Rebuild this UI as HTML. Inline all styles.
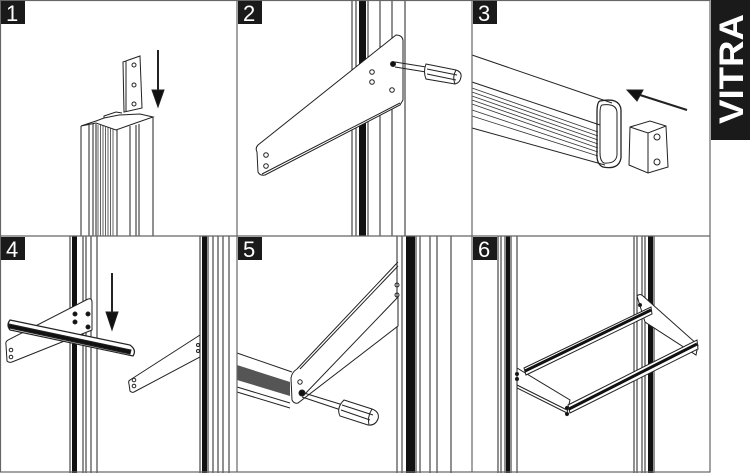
<!DOCTYPE html>
<html><head><meta charset="utf-8"><style>
html,body{margin:0;padding:0;background:#fff}
svg{display:block}
text{font-family:"Liberation Sans",sans-serif}
</style></head><body>
<svg width="750" height="473" viewBox="0 0 750 473" xmlns="http://www.w3.org/2000/svg">
<rect width="750" height="473" fill="#fff"/>
<g fill="none" stroke="#222" stroke-width="1">
<!-- PANEL 1 -->
<path d="M123,62 L140,56 L142,108 L124,112 Z"/>
<path d="M126,61 L126,111"/>
<circle cx="134" cy="65" r="2"/><circle cx="134" cy="85" r="2"/><circle cx="134" cy="104" r="2"/>
<path d="M158,50 L158,92" stroke-width="2"/>
<path d="M152,90 L164,90 L158,107 Z" fill="#111"/>
<path d="M81,126 L81,236 M89,125 L89,236 M93,124 L93,236 M96,124 L96,236 M117,130 L117,236 M130,126 L130,236 M136,125 L136,236 M139,124 L139,236 M153,117 L153,236"/>
<path d="M81,126 L96,123 L116,130 L130,125 L153,117 L140,114 L119,115 L104,118 L96,121 L81,126"/>
<path d="M104,118 L104,116 L116,112 L122,113"/>
<g stroke="#222" stroke-width="0.7"><path d="M98,125 V236 M100.5,125 V236 M103,126 V236 M105.5,127 V236 M108,127 V236 M110.5,128 V236 M113,129 V236"/></g>
<!-- PANEL 2 -->
<path d="M352,0 V236 M356,0 V236 M368,0 V236 M380,0 V236 M392,0 V236 M405,0 V236"/>
<rect x="359" y="0" width="7" height="236" fill="#111" stroke="none"/>
<path d="M258,145 Q255,148 257,152 L258,172 Q260,176 265,175 L400,105 L403,100 L403,40 Q402,35 396,35 Z" fill="#fff"/>
<path d="M262,174 L400,103"/>
<circle cx="266" cy="155" r="2.3"/><circle cx="266" cy="166" r="2.3"/>
<circle cx="372" cy="72" r="2.3"/><circle cx="372" cy="82" r="2.3"/>
<circle cx="392" cy="90" r="2.3"/>
<circle cx="393" cy="64" r="2.5" fill="#111"/>
<path d="M395,62 L426,67 M395,67 L426,72"/>
<path d="M426,64 L456,70 Q462,72 461,77 Q460,83 455,84 L426,79 Q423,72 426,64 Z" fill="#fff"/>
<path d="M427,69 L457,75 M427,74 L456,80 M456,70 Q452,77 455,84"/>
<!-- PANEL 3 -->
<path d="M472,55 L612,103 M472,82 L600,125 M472,128 L605,165"/>
<g stroke="#333" stroke-width="0.8"><path d="M472,88 L598,132 M472,92 L598,136 M472,96 L598,140 M472,100 L598,144 M472,104 L598,148 M472,110 L598,152 M472,116 L598,156"/></g>
<path d="M600,101 Q620,97 621,110 L621,158 Q619,170 603,167 Q596,164 597,152 L597,112 Q597,102 600,101 Z" stroke-width="1.3"/>
<path d="M602,105 Q617,103 617,113 L617,155 Q616,164 604,163 Q600,161 600,153 L600,113 Q600,106 602,105 Z"/>
<path d="M630,127 L650,121 L666,126 L668,167 L648,173 L629,165 Z" fill="#fff"/>
<path d="M630,127 L648,133 L666,126 M648,133 L648,173"/>
<circle cx="657" cy="137" r="3"/><circle cx="657" cy="162" r="3"/>
<path d="M687,110 L640,95" stroke-width="2"/>
<path d="M627,90 L643,90 L637,101 Z" fill="#111"/>
<!-- PANEL 4 -->
<path d="M70,236 V473 M83,236 V473 M86,236 V473 M91,236 V473 M97,236 V473"/>
<rect x="72" y="236" width="5" height="237" fill="#111" stroke="none"/>
<path d="M200,236 V473 M208,236 V473 M213,236 V473 M218,236 V473 M223,236 V473 M229,236 V473"/>
<rect x="202" y="236" width="5" height="237" fill="#111" stroke="none"/>
<path d="M8,340 Q5,342 6,345 L7,361 Q9,363 12,362 L92,330 L92,302 Q92,298 88,299 Z" fill="#fff"/>
<circle cx="11" cy="350" r="1.8"/><circle cx="11" cy="357" r="1.8"/>
<circle cx="75" cy="314" r="2" fill="#111"/><circle cx="75" cy="322" r="2" fill="#111"/><circle cx="88" cy="314" r="2" fill="#111"/><circle cx="88" cy="327" r="2" fill="#111"/>
<path d="M10,320 L130,345 Q137,350 133,356 L10,330 Q6,325 10,320 Z" fill="#fff" stroke-width="1.2"/>
<path d="M9,324 L131,350 L130,354 L9,328 Z" fill="#111"/>
<path d="M130,380 Q128,381 129,384 L130,391 Q132,393 134,392 L200,357 L200,335 Z" fill="#fff"/>
<circle cx="134" cy="380" r="1.8"/><circle cx="134" cy="386" r="1.8"/>
<circle cx="198" cy="345" r="1.5"/><circle cx="198" cy="351" r="1.5"/>
<path d="M112,273 L112,315" stroke-width="2"/>
<path d="M106,312 L118,312 L112,330 Z" fill="#111"/>
<!-- PANEL 5 -->
<path d="M397,236 V473 M402,236 V473 M416,236 V473 M420,236 V473 M430,236 V473 M437,236 V473 M451,236 V473"/>
<rect x="406" y="236" width="9" height="237" fill="#111" stroke="none"/>
<path d="M237,353 L292,372 M237,392 L290,408 M237,387 L290,403"/>
<path d="M237,365 L290,382 L290,396 L237,380 Z" fill="#555" stroke="none"/>
<path d="M297,369 Q292,372 291,378 L292,400 Q294,404 298,403 L398,326 L398,297 L303,396 M297,369 L398,262" fill="#fff"/>
<path d="M300,369 L398,266"/>
<circle cx="300" cy="382" r="2.2"/>
<circle cx="397" cy="285" r="2"/><circle cx="397" cy="295" r="2"/>
<circle cx="302" cy="393" r="3" fill="#111"/>
<path d="M304,393 L343,405 M302,397 L341,410"/>
<path d="M344,400 L372,409 Q380,412 378,419 Q375,426 368,425 L340,416 Q336,408 344,400 Z" fill="#fff"/>
<path d="M342,405 L373,415 M341,410 L370,420 M372,409 Q367,417 369,425"/>
<!-- PANEL 6 -->
<path d="M498,236 V473 M501,236 V473 M505,236 V473 M511,236 V473 M517,236 V473"/>
<rect x="506" y="236" width="4" height="237" fill="#111" stroke="none"/>
<path d="M634,236 V473 M637,236 V473 M642,236 V473 M645,236 V473 M654,236 V473"/>
<rect x="648" y="236" width="5" height="237" fill="#111" stroke="none"/>
<path d="M517,368 L517,388 L567,413 L570,400 Z M517,385 L567,410" fill="#fff"/>
<path d="M637,296 Q640,293 643,296 L698,345 L696,355 L645,322 Z" fill="#fff"/>
<circle cx="640" cy="305" r="1.5" fill="#111"/>
<path d="M524,368 L651,307 L652,314 L526,375 Z" fill="#fff"/>
<path d="M525,371 L651,310" stroke="#111" stroke-width="3"/>
<path d="M568,405 L697,340 L698,349 L570,413 Z" fill="#fff"/>
<path d="M569,409 L697,344" stroke="#111" stroke-width="3"/>
<circle cx="567" cy="408" r="1.6" fill="#111"/><circle cx="567" cy="414" r="1.6" fill="#111"/>
<circle cx="517" cy="374" r="1.6" fill="#111"/><circle cx="517" cy="379" r="1.6" fill="#111"/>
</g>
<g stroke="#666" stroke-width="1.2" fill="none">
<rect x="0.5" y="0.5" width="709.5" height="471.5"/>
<path d="M237,0 V472 M472,0 V472 M0,236 H710"/>
</g>
<g font-size="22" fill="#fff">
<rect x="1" y="1" width="24" height="23" fill="#1a1a1a"/><text x="6" y="21">1</text>
<rect x="238" y="1" width="24" height="23" fill="#1a1a1a"/><text x="243" y="21">2</text>
<rect x="473" y="1" width="24" height="23" fill="#1a1a1a"/><text x="478" y="21">3</text>
<rect x="1" y="237" width="24" height="23" fill="#1a1a1a"/><text x="6" y="257">4</text>
<rect x="238" y="237" width="24" height="23" fill="#1a1a1a"/><text x="243" y="257">5</text>
<rect x="473" y="237" width="24" height="23" fill="#1a1a1a"/><text x="478" y="257">6</text>
</g>
<rect x="711" y="0" width="39" height="140" fill="#1a1a1a"/>
<text x="0" y="0" transform="translate(743,124) rotate(-90) scale(1,1.15)" font-size="30" font-weight="bold" fill="#fff" textLength="110" lengthAdjust="spacingAndGlyphs">VITRA</text>
</svg>
</body></html>
